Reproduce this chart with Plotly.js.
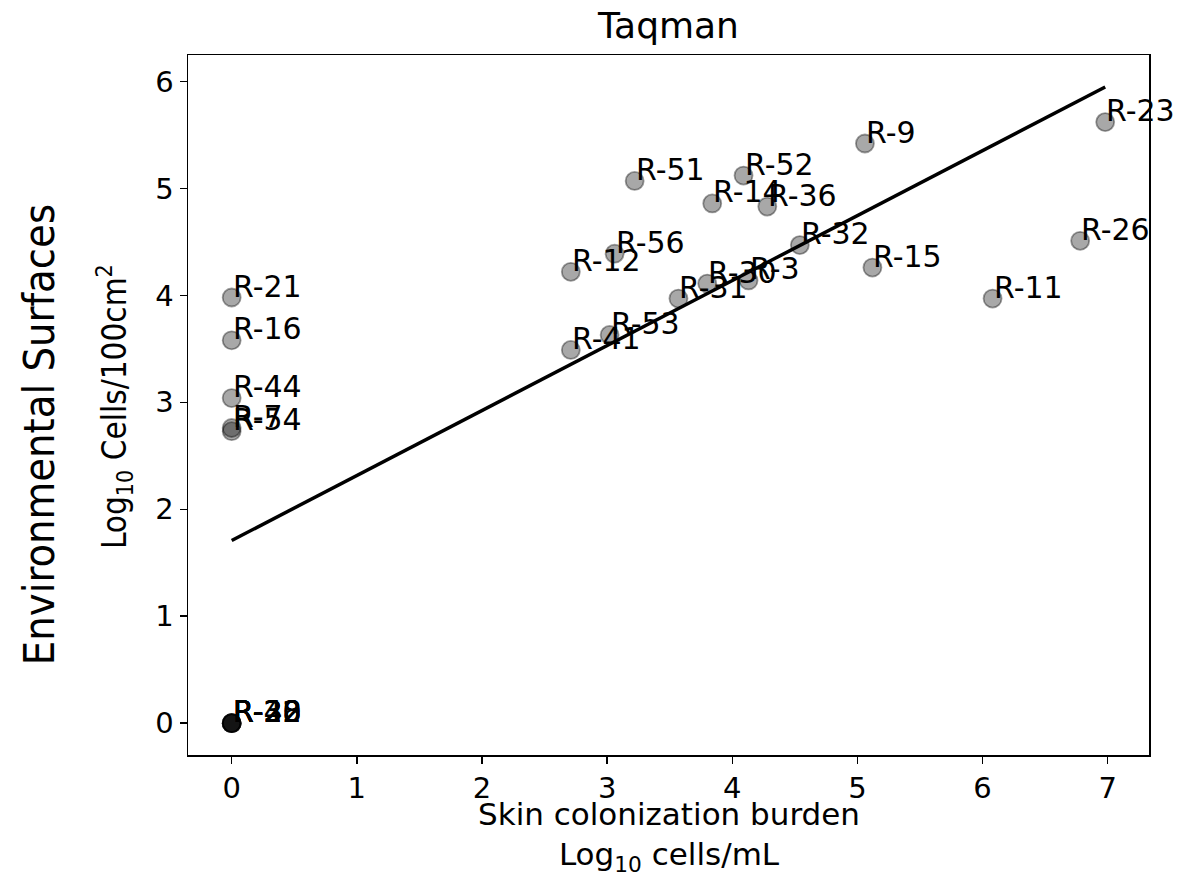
<!DOCTYPE html>
<html><head><meta charset="utf-8">
<script src="https://cdn.plot.ly/plotly-3.0.1.min.js"></script>
<style>html,body{margin:0;padding:0;background:#fff}</style>
</head><body><div id="chart" style="width:1178px;height:893px"></div>
<script>
// Sample labels
const sampleLabels = [
  'R-21','R-16','R-44','R-7','R-54',
  'R-22','R-20','R-28','R-38','R-40','R-32 ',
  'R-12','R-41','R-56','R-53','R-51','R-31','R-30','R-14','R-52','R-3',
  'R-36','R-32','R-9','R-15','R-11','R-26','R-23'
];
// Skin colonization burden (Log10 cells/mL)
const skinBurden = [
  0,0,0,0,0,
  0,0,0,0,0,0,
  2.71,2.71,3.06,3.02,3.22,3.57,3.80,3.84,4.09,4.13,
  4.28,4.54,5.06,5.12,6.08,6.78,6.98
];
// Environmental surfaces (Log10 Cells/100cm2)
const envSurface = [
  3.98,3.58,3.04,2.76,2.73,
  0,0,0,0,0,0,
  4.22,3.49,4.39,3.63,5.07,3.97,4.11,4.86,5.12,4.14,
  4.83,4.47,5.42,4.26,3.97,4.51,5.62
];
const xTicks = [0,1,2,3,4,5,6,7];
const yTicks = [0,1,2,3,4,5,6];

// Least-squares fit derived from the data
const n = skinBurden.length;
const mx = skinBurden.reduce((a,b)=>a+b,0)/n;
const my = envSurface.reduce((a,b)=>a+b,0)/n;
let sxy=0, sxx=0;
for (let i=0;i<n;i++){ sxy += (skinBurden[i]-mx)*(envSurface[i]-my); sxx += (skinBurden[i]-mx)**2; }
const slope = sxy/sxx, intercept = my - slope*mx;
const xMin = Math.min(...skinBurden), xMax = Math.max(...skinBurden);
const fitX = [xMin, xMax];
const fitY = fitX.map(x => intercept + slope*x);

const labelFont = {family:'DejaVu Sans', size:30, color:'#000'};
const annotations = sampleLabels.map((t,i)=>({
  x: skinBurden[i], y: envSurface[i], xref:'x', yref:'y',
  text: t.trim(), showarrow:false, xanchor:'left', yanchor:'bottom',
  yshift:-8, xshift:-1, font: labelFont
}));
annotations.push({
  text:'Skin colonization burden<br>Log<sub>10</sub> cells/mL', xref:'paper', yref:'paper',
  x:0.5, y:-0.117, xanchor:'center', yanchor:'middle', showarrow:false,
  font:{family:'DejaVu Sans', size:31, color:'#000'}
});
annotations.push({
  text:'Log<sub>10</sub> Cells/100cm<sup>2</sup>', xref:'paper', yref:'paper',
  x:-0.077, y:0.497, xanchor:'center', yanchor:'middle', textangle:-90, showarrow:false,
  font:{family:'Liberation Sans Narrow, DejaVu Sans Condensed, sans-serif', size:33, color:'#000'}
});
annotations.push({
  text:'Environmental Surfaces', xref:'paper', yref:'paper',
  x:-0.155, y:0.457, xanchor:'center', yanchor:'middle', textangle:-90, showarrow:false,
  font:{family:'Liberation Sans Narrow, DejaVu Sans Condensed, sans-serif', size:43, color:'#000'}
});

const traces = [
  {x: skinBurden, y: envSurface, mode:'markers', type:'scatter',
   marker:{size:18, color:'rgba(0,0,0,0.34)', line:{color:'rgba(0,0,0,0.38)', width:1.8}},
   hoverinfo:'text', text: sampleLabels, showlegend:false},
  {x: fitX, y: fitY, mode:'lines', type:'scatter',
   line:{color:'#000', width:3.5}, showlegend:false, hoverinfo:'skip'}
];

const axisCommon = {
  showgrid:false, zeroline:false, showline:true, linecolor:'#000', linewidth:1.5,
  mirror:true, ticks:'outside', ticklen:7, tickwidth:1.5, tickcolor:'#000',
  tickfont:{family:'DejaVu Sans', size:29, color:'#000'}
};

const layout = {
  width:1178, height:893,
  margin:{l:188, r:29, t:55, b:138},
  paper_bgcolor:'#fff', plot_bgcolor:'#fff',
  title:{text:'Taqman', font:{family:'DejaVu Sans', size:36, color:'#000'},
         xref:'paper', x:0.5, xanchor:'center', yref:'container', y:0.972, yanchor:'middle'},
  xaxis: Object.assign({}, axisCommon, {
    range:[-0.349, 7.33], tickvals:xTicks, ticktext:xTicks.map(String)
  }),
  yaxis: Object.assign({}, axisCommon, {
    range:[-0.2975, 6.2475], tickvals:yTicks, ticktext:yTicks.map(String)
  }),
  annotations: annotations
};

Plotly.newPlot('chart', traces, layout, {displayModeBar:false, staticPlot:true});
</script></body></html>
